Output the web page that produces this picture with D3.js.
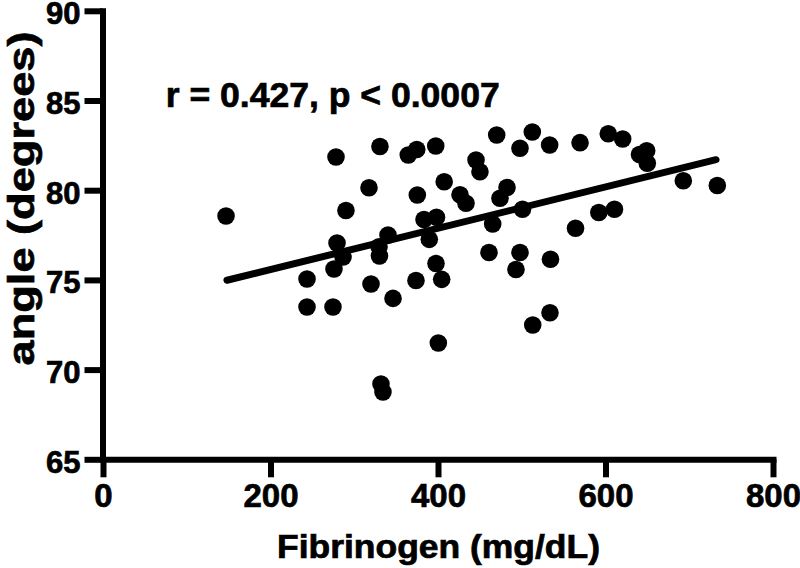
<!DOCTYPE html>
<html>
<head>
<meta charset="utf-8">
<script src="https://cdnjs.cloudflare.com/ajax/libs/d3/7.8.5/d3.min.js"></script>
<style>
  html, body { margin: 0; padding: 0; background: #fff; }
  svg { display: block; font-family: "Liberation Sans", Arial, Helvetica, sans-serif; font-weight: bold; }
  svg text { stroke: #000; stroke-width: 0.7px; }
</style>
</head>
<body>
<svg id="chart" width="800" height="568"></svg>
<script>
// values
var fibrinogen = [146.9, 243.6, 243.6, 274.6, 278.2, 290.1, 279.4, 286.6, 275.8, 330.7,
  317.6, 340.3, 329.6, 330.1, 320.0, 346.3, 331.9, 334.3, 364.5, 374.6,
  397.3, 375.3, 383.3, 398.2, 389.6, 397.6, 373.7, 404.4, 400.4, 407.4,
  426.3, 433.4, 445.4, 450.1, 470.1, 460.9, 465.3, 474.0, 482.4, 500.9,
  497.9, 512.6, 533.3, 569.6, 497.9, 493.1, 534.3, 533.7, 513.1, 564.2,
  592.0, 610.7, 603.3, 620.5, 640.6, 649.2, 649.9, 692.9, 733.5];
var angle = [78.56, 75.05, 73.49, 73.49, 81.85, 78.87, 77.06, 76.28, 75.61, 82.44,
  80.14, 77.50, 76.85, 76.33, 74.77, 73.97, 69.20, 68.75, 81.96, 82.27,
  82.46, 79.73, 78.37, 78.49, 77.26, 75.91, 74.97, 75.03, 71.48, 80.47,
  79.75, 79.27, 81.68, 81.03, 83.08, 76.53, 78.12, 79.55, 80.15, 78.94,
  82.34, 83.24, 82.52, 82.65, 76.53, 75.58, 76.15, 73.17, 72.49, 77.88,
  78.76, 78.94, 83.15, 82.85, 81.99, 82.20, 81.50, 80.53, 80.26];
// regression line end points
var fitX = [148, 732];
var fitY = [74.98, 81.7];
var xTicks = [0, 200, 400, 600, 800];
var yTicks = [65, 70, 75, 80, 85, 90];
var xTitle = 'Fibrinogen (mg/dL)';
var yTitle = 'angle (degrees)';
var statText = 'r = 0.427, p < 0.0007';

var svg = d3.select('#chart');
var x = d3.scaleLinear().domain([0, 800]).range([103, 773]);
var y = d3.scaleLinear().domain([65, 90]).range([459.3, 10.8]);

var pts = fibrinogen.map(function(v, i) { return { x: v, y: angle[i] }; });

// axes
var gx = svg.append('g').attr('transform', 'translate(0,459.3)')
  .call(d3.axisBottom(x).tickValues(xTicks).tickSize(18).tickSizeOuter(0).tickPadding(6).tickFormat(d3.format('d')));
var gy = svg.append('g').attr('transform', 'translate(102.5,0)')
  .call(d3.axisLeft(y).tickValues(yTicks).tickSize(18).tickSizeOuter(0).tickPadding(4).tickFormat(d3.format('d')));

[gx, gy].forEach(function(g) {
  g.select('.domain').attr('stroke', '#000').attr('stroke-width', 6).attr('stroke-linecap', 'square');
  g.selectAll('.tick line').attr('stroke', '#000').attr('stroke-width', 6);
  g.selectAll('.tick text').attr('fill', '#000').attr('font-family', null);
});
gx.selectAll('.tick text').attr('font-size', 33);
gy.selectAll('.tick text').attr('font-size', 31).attr('dy', '0.42em');

// regression line
svg.append('line')
  .attr('x1', x(fitX[0])).attr('y1', y(fitY[0]))
  .attr('x2', x(fitX[1])).attr('y2', y(fitY[1]))
  .attr('stroke', '#000').attr('stroke-width', 7).attr('stroke-linecap', 'round');

// points
svg.append('g').selectAll('circle').data(pts).enter().append('circle')
  .attr('cx', function(d) { return x(d.x); })
  .attr('cy', function(d) { return y(d.y); })
  .attr('r', 8.8)
  .attr('fill', '#000');

// texts
svg.append('text').attr('x', 165.7).attr('y', 107.3)
  .attr('font-size', 35).attr('textLength', 334).attr('lengthAdjust', 'spacingAndGlyphs')
  .text(statText);

svg.append('text').attr('x', 438.5).attr('y', 558).attr('text-anchor', 'middle')
  .attr('font-size', 32.5).attr('textLength', 323).attr('lengthAdjust', 'spacingAndGlyphs')
  .text(xTitle);

svg.append('text').attr('transform', 'translate(34,198.5) rotate(-90)').attr('text-anchor', 'middle')
  .attr('font-size', 37).attr('textLength', 334).attr('lengthAdjust', 'spacingAndGlyphs')
  .text(yTitle);
</script>
</body>
</html>
